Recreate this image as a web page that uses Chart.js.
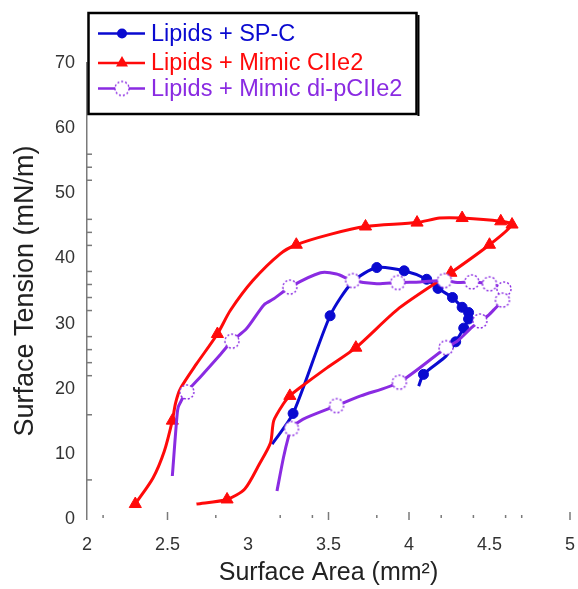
<!DOCTYPE html>
<html><head><meta charset="utf-8">
<script src="https://cdn.jsdelivr.net/npm/chart.js@4"></script>
<style>html,body{margin:0;padding:0;background:#fff}#wrap{width:578px;height:589px}</style>
</head><body><div id="wrap"><canvas id="c" width="578" height="589"></canvas></div>
<script>
// ---- Data ----
const seriesNames = ['Lipids + SP-C', 'Lipids + Mimic CIIe2', 'Lipids + Mimic di-pCIIe2'];

const spcArea    = [3.15, 3.28, 3.51, 3.65, 3.80, 3.97, 4.11, 4.18, 4.27, 4.33, 4.37, 4.37, 4.34, 4.29, 4.23, 4.09, 4.06];
const spcTension = [11.5, 16.2, 31.2, 36.4, 38.6, 38.1, 36.8, 35.4, 34.0, 32.5, 31.7, 30.7, 29.3, 27.2, 25.0, 22.2, 20.4];
const spcMarker  = [0, 1, 1, 0, 1, 1, 1, 1, 1, 1, 1, 1, 1, 1, 0, 1, 0];

const ciiArea    = [2.68, 2.87, 2.98, 3.07, 3.14, 3.16, 3.22, 3.26, 3.32, 3.49, 3.67, 3.94, 4.26, 4.50, 4.64, 4.57, 4.33, 4.19, 4.05, 3.73, 3.51, 3.30, 3.20, 3.03, 2.89, 2.81, 2.68, 2.58, 2.55, 2.53, 2.48, 2.41, 2.30];
const ciiTension = [2.3, 3.0, 4.6, 8.4, 11.7, 15.1, 17.7, 18.9, 20.1, 23.2, 26.3, 32.4, 37.8, 42.1, 45.2, 45.7, 46.2, 46.2, 45.5, 44.9, 43.7, 42.1, 40.7, 36.6, 32.0, 28.4, 23.8, 20.0, 17.8, 15.1, 10.4, 6.3, 2.3];
const ciiMarker  = [0, 1, 0, 0, 0, 0, 0, 1, 0, 0, 1, 0, 1, 1, 1, 1, 1, 0, 1, 1, 0, 1, 0, 0, 0, 1, 0, 0, 0, 1, 0, 0, 1];

const dipArea    = [2.53, 2.56, 2.57, 2.62, 2.70, 2.83, 2.90, 2.99, 3.10, 3.16, 3.26, 3.45, 3.55, 3.65, 3.80, 3.93, 4.07, 4.22, 4.30, 4.39, 4.50, 4.59, 4.58, 4.53, 4.49, 4.44, 4.39, 4.30, 4.23, 3.94, 3.70, 3.55, 3.34, 3.27, 3.25, 3.22, 3.18];
const dipTension = [6.6, 16.1, 17.4, 19.5, 21.7, 25.3, 27.3, 29.2, 32.9, 33.8, 35.6, 37.8, 37.6, 36.6, 36.1, 36.3, 36.4, 36.6, 36.3, 36.4, 36.1, 35.3, 33.6, 32.2, 31.2, 30.4, 29.4, 27.3, 26.3, 21.0, 18.9, 17.4, 15.3, 13.9, 12.5, 9.4, 4.3];
const dipMarker  = [0, 0, 0, 1, 0, 0, 1, 0, 0, 0, 1, 0, 0, 1, 0, 1, 0, 1, 0, 1, 1, 1, 1, 0, 0, 1, 0, 0, 1, 1, 0, 1, 0, 1, 0, 0, 0];

// axis ticks
const xMin = 2, xMax = 5, xStep = 0.5;
const yMin = 0, yMax = 70, yStep = 10;
const xMarkLong  = [2.5, 3.5, 4.0, 5.0];
const xMarkShort = [2.1, 2.8, 3.2, 3.4, 3.8, 4.2, 4.4, 4.6, 4.7];
const yMarks = [6, 16, 22, 24, 26, 28, 32, 34, 36, 38, 42, 44, 46, 52, 54, 56];

// ---- styling ----
const BLUE = '#0a0ad0', RED = '#ff0a0a', PURPLE = '#8a2be2';
const FONT = '"Liberation Sans", Arial, sans-serif';

function dottedCircle(color) {
  const c = document.createElement('canvas');
  c.width = 18; c.height = 18;
  const g = c.getContext('2d');
  g.beginPath(); g.arc(9, 9, 7, 0, Math.PI * 2);
  g.fillStyle = '#fff'; g.fill();
  g.setLineDash([2, 2]); g.lineWidth = 1.4; g.strokeStyle = color; g.stroke();
  return c;
}
const openMarker = dottedCircle(PURPLE);

function pts(xs, ys) { return xs.map((x, i) => ({ x: x, y: ys[i] })); }

const datasets = [
  {
    label: seriesNames[0], data: pts(spcArea, spcTension), order: 3,
    borderColor: BLUE, backgroundColor: BLUE, borderWidth: 3, tension: 0.25,
    pointStyle: 'circle', pointRadius: spcMarker.map(m => m ? 5 : 0),
    pointBackgroundColor: BLUE, pointBorderColor: BLUE, pointBorderWidth: 1
  },
  {
    label: seriesNames[1], data: pts(ciiArea, ciiTension), order: 2,
    borderColor: RED, backgroundColor: RED, borderWidth: 3, tension: 0.25,
    pointStyle: 'triangle', pointRadius: ciiMarker.map(m => m ? 7 : 0),
    pointBackgroundColor: RED, pointBorderColor: RED, pointBorderWidth: 1
  },
  {
    label: seriesNames[2], data: pts(dipArea, dipTension), order: 1,
    borderColor: PURPLE, backgroundColor: PURPLE, borderWidth: 3, tension: 0.25,
    pointStyle: openMarker, pointRadius: dipMarker.map(m => m ? 7 : 0)
  }
];

const decor = {
  id: 'decor',
  afterDraw(chart) {
    const ctx = chart.ctx, xs = chart.scales.x, ys = chart.scales.y;
    const y0 = ys.getPixelForValue(0), x0 = xs.getPixelForValue(xMin);
    ctx.save();
    ctx.strokeStyle = '#7a7a7a'; ctx.lineWidth = 1.5;
    xMarkLong.forEach(v => { const p = xs.getPixelForValue(v); ctx.beginPath(); ctx.moveTo(p, y0 + 1); ctx.lineTo(p, y0 - 7); ctx.stroke(); });
    xMarkShort.forEach(v => { const p = xs.getPixelForValue(v); ctx.beginPath(); ctx.moveTo(p, y0 - 1); ctx.lineTo(p, y0 - 4); ctx.stroke(); });
    yMarks.forEach(v => { const p = ys.getPixelForValue(v); ctx.beginPath(); ctx.moveTo(x0, p); ctx.lineTo(x0 + 5, p); ctx.stroke(); });

    // legend box
    const bx = 88.5, by = 13, bw = 328, bh = 101;
    ctx.fillStyle = '#fff'; ctx.fillRect(bx, by, bw, bh);
    ctx.strokeStyle = '#000'; ctx.lineWidth = 2.5; ctx.strokeRect(bx, by, bw, bh);
    ctx.fillStyle = '#000'; ctx.fillRect(bx + bw + 1, by + 2, 2, bh);
    const rows = [33.5, 63, 88.5];
    const colors = [BLUE, RED, PURPLE];
    ctx.font = '23.5px ' + FONT; ctx.textBaseline = 'middle'; ctx.textAlign = 'left';
    rows.forEach((ry, i) => {
      ctx.strokeStyle = colors[i]; ctx.lineWidth = 2.5; ctx.setLineDash([]);
      ctx.beginPath(); ctx.moveTo(98, ry); ctx.lineTo(145, ry); ctx.stroke();
      if (i === 0) { ctx.fillStyle = BLUE; ctx.beginPath(); ctx.arc(122, ry, 5, 0, Math.PI * 2); ctx.fill(); }
      if (i === 1) { ctx.fillStyle = RED; ctx.beginPath(); ctx.moveTo(122, ry - 7); ctx.lineTo(128, ry + 3.5); ctx.lineTo(116, ry + 3.5); ctx.closePath(); ctx.fill(); }
      if (i === 2) { ctx.drawImage(openMarker, 122 - 9, ry - 9); }
      ctx.fillStyle = colors[i];
      ctx.fillText(seriesNames[i], 151, ry + 1);
    });
    ctx.restore();
  }
};

new Chart(document.getElementById('c'), {
  type: 'line',
  data: { datasets: datasets },
  plugins: [decor],
  options: {
    responsive: false, animation: false,
    layout: { padding: { top: 63, right: 8, bottom: 0, left: 0 } },
    plugins: { legend: { display: false }, tooltip: { enabled: false } },
    scales: {
      x: {
        type: 'linear', min: xMin, max: xMax,
        afterFit(s) { s.height = 70; s.paddingLeft = 0; s.paddingRight = 0; },
        grid: { display: false, drawTicks: false },
        border: { display: false },
        ticks: { stepSize: xStep, padding: 15, color: '#333', font: { family: FONT, size: 18 },
                 callback: v => String(v) },
        title: { display: true, text: 'Surface Area (mm²)', color: '#222',
                 font: { family: FONT, size: 25 }, padding: { top: 0, bottom: 1 } }
      },
      y: {
        type: 'linear', min: yMin, max: yMax,
        afterFit(s) { s.width = 87; },
        grid: { display: false, drawTicks: false },
        border: { display: true, color: '#7a7a7a', width: 1.5 },
        ticks: { stepSize: yStep, padding: 12, color: '#333', font: { family: FONT, size: 18 } },
        title: { display: true, text: 'Surface Tension (mN/m)', color: '#222',
                 font: { family: FONT, size: 27 }, padding: { top: 9, bottom: 0 } }
      }
    }
  }
});
</script>
</body></html>
